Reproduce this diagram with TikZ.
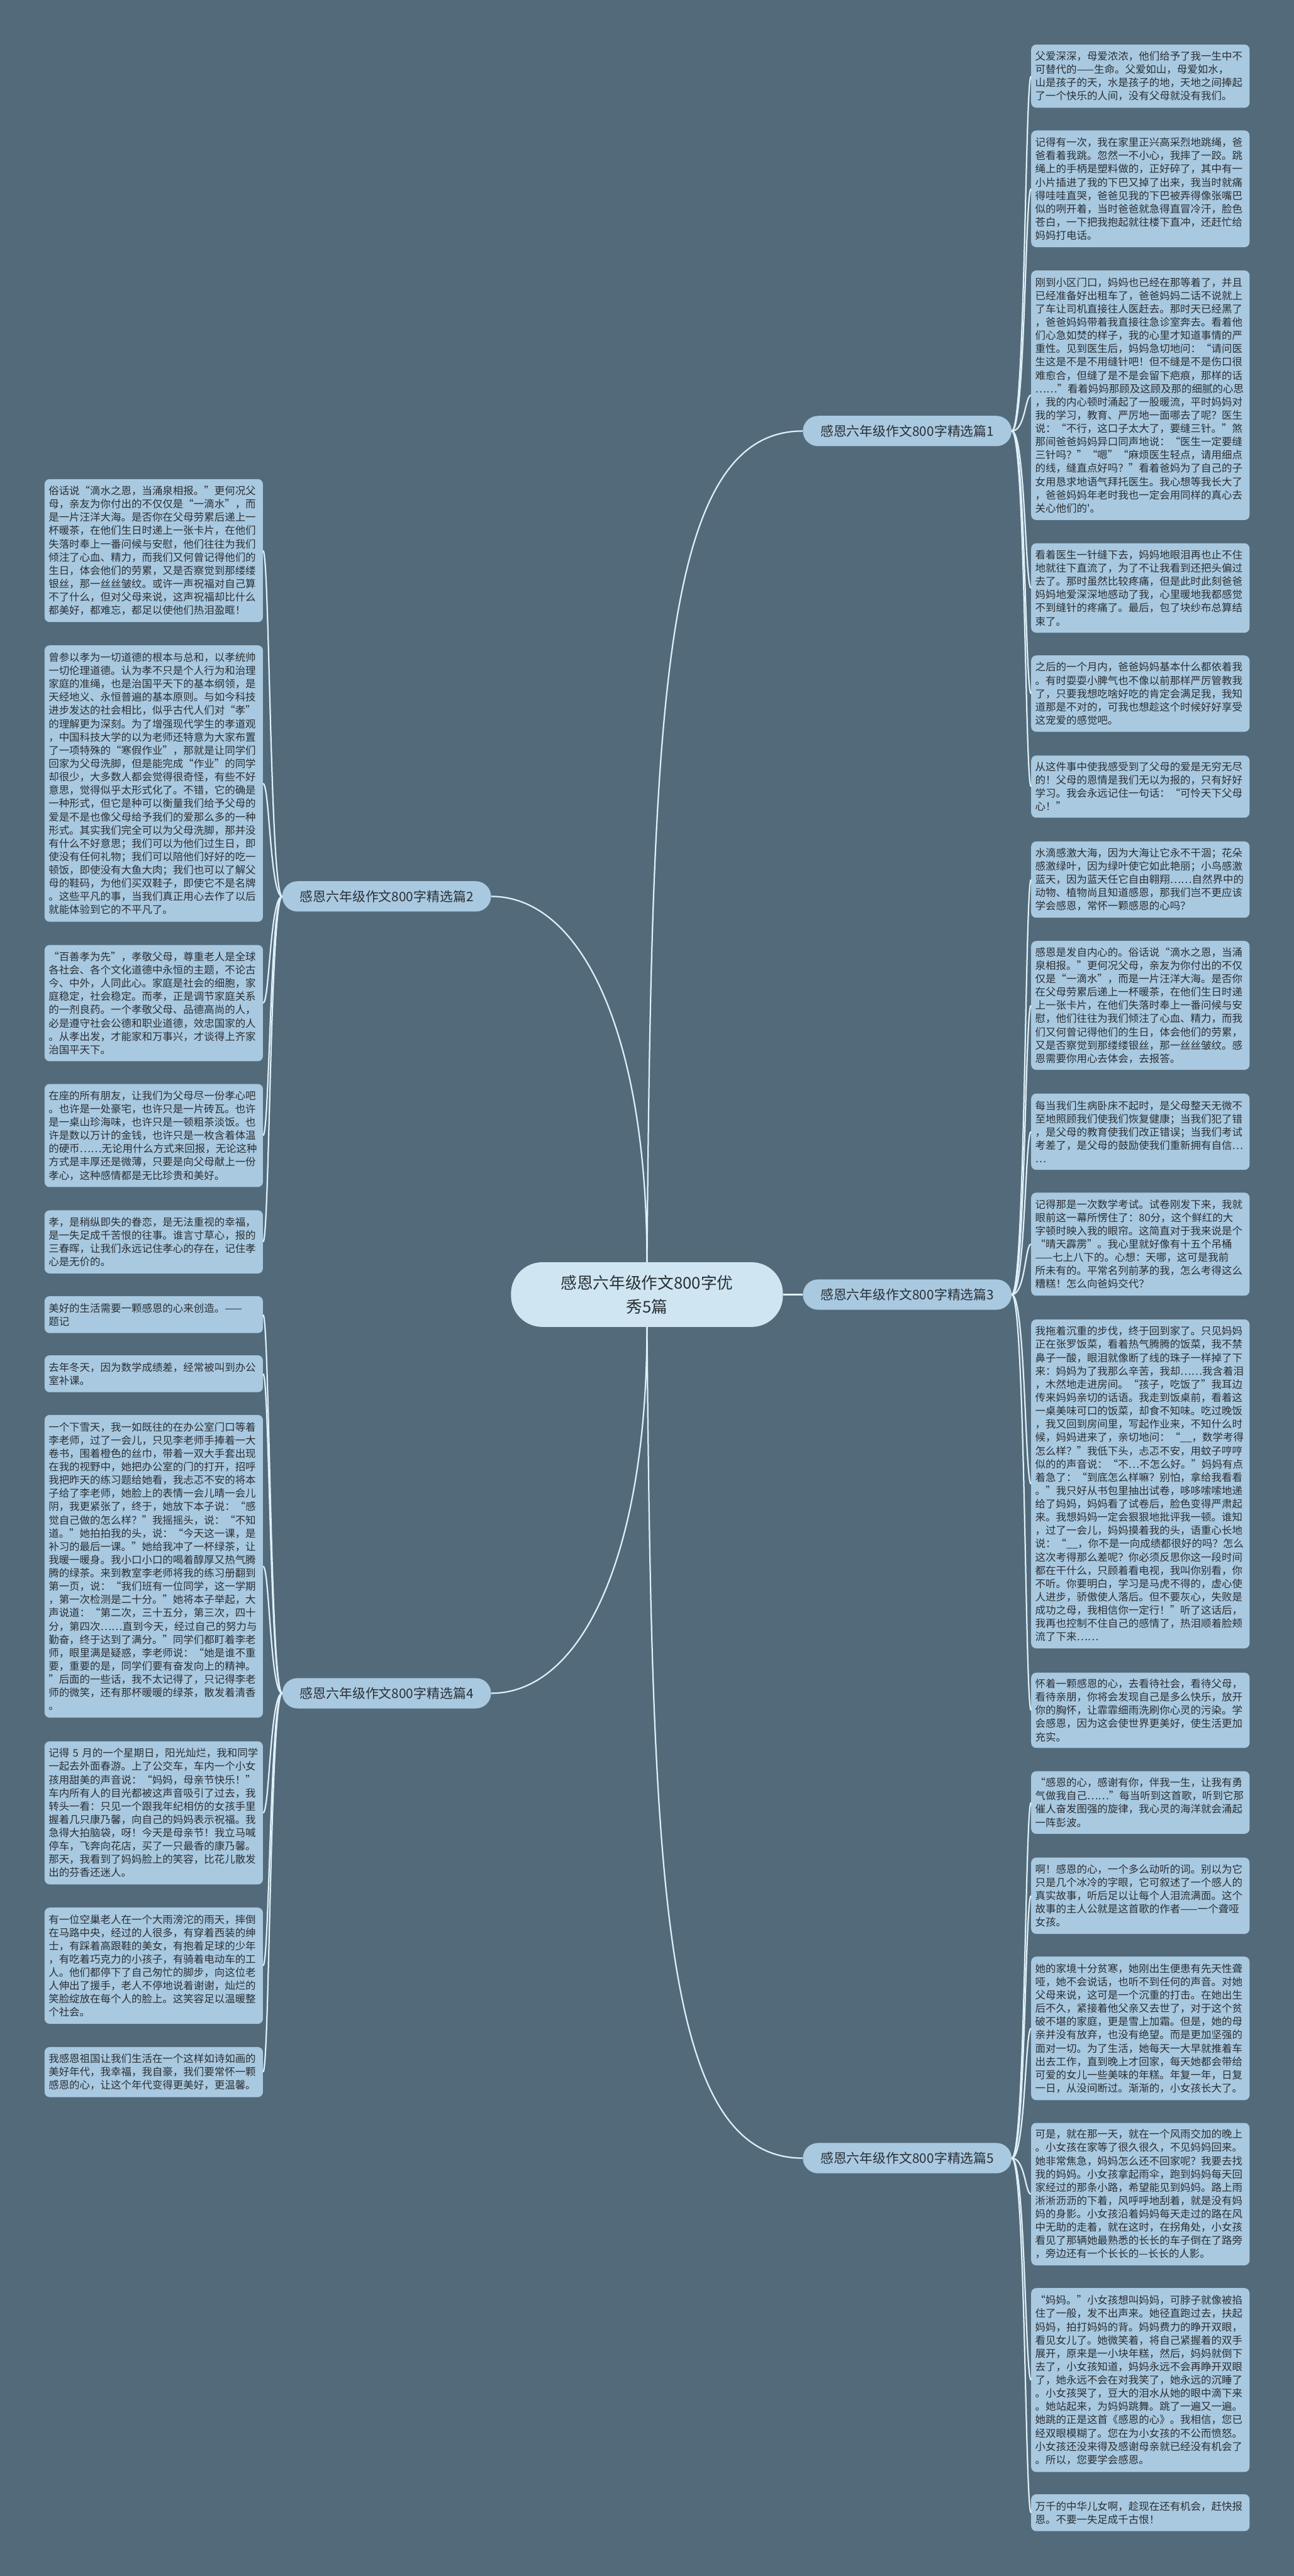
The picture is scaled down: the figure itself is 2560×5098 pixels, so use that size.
\documentclass[tikz,border=0pt]{standalone}
\usepackage{fontspec}
\newfontfamily\cjk{Noto Sans CJK SC}
\usetikzlibrary{calc}
\definecolor{bg}{HTML}{526A7A}
\definecolor{leaffill}{HTML}{A9C9E0}
\definecolor{centerfill}{HTML}{CFE6F2}
\definecolor{linec}{HTML}{DDEFF8}
\definecolor{txt}{HTML}{2A2F34}
\tikzset{
  leafbox/.style={fill=leaffill, rounded corners=10pt, text=txt,
    font=\cjk\fontsize{20.5pt}{26.3pt}\selectfont, align=left,
    text width=416pt, inner xsep=8pt, inner ysep=0pt, minimum width=432pt, anchor=north west},
  branchbox/.style={fill=leaffill, rounded corners=30pt, text=txt,
    font=\cjk\fontsize{26pt}{30pt}\selectfont, minimum width=413pt, minimum height=60pt,
    inner xsep=10pt, inner ysep=0pt},
  centerbox/.style={fill=centerfill, rounded corners=62pt, text=txt,
    font=\cjk\fontsize{32pt}{47pt}\selectfont, align=center, minimum width=538pt,
    minimum height=128pt, inner sep=0pt},
  conn/.style={draw=linec, line width=2.8pt}
}
\newcommand\leaf[4]{\node[leafbox, minimum height=#3pt] (#1) at (#2) {#4};}
\newcommand\rconn[2]{\draw[conn] (#1.east) .. controls ($(#1.east)+(27,0)$) and ($(#2.west)+(-12,0)$) .. (#2.west);}
\newcommand\lconn[2]{\draw[conn] (#1.west) .. controls ($(#1.west)+(-24,0)$) and ($(#2.east)+(13,0)$) .. (#2.east);}
\begin{document}
\begin{tikzpicture}[x=1pt,y=-1pt]
\fill[bg] (0,0) rectangle (2560,5098);
\useasboundingbox (0,0) rectangle (2560,5098);

% centre and branches
\node[centerbox] (c) at (1280,2562) {感恩六年级作文800字优\\秀5篇};
\node[branchbox] (b1) at (1795,853) {感恩六年级作文800字精选篇1};
\node[branchbox] (b2) at (765,1774) {感恩六年级作文800字精选篇2};
\node[branchbox] (b3) at (1795,2562) {感恩六年级作文800字精选篇3};
\node[branchbox] (b4) at (765,3351) {感恩六年级作文800字精选篇4};
\node[branchbox] (b5) at (1795,4271) {感恩六年级作文800字精选篇5};

% right column, branch 1
\leaf{r1}{2040,88}{125}{父爱深深，母爱浓浓，他们给予了我一生中不\\可替代的——生命。父爱如山，母爱如水，\\山是孩子的天，水是孩子的地，天地之间捧起\\了一个快乐的人间，没有父母就没有我们。}
\leaf{r2}{2040,258}{231}{记得有一次，我在家里正兴高采烈地跳绳，爸\\爸看着我跳。忽然一不小心，我摔了一跤。跳\\绳上的手柄是塑料做的，正好碎了，其中有一\\小片插进了我的下巴又掉了出来，我当时就痛\\得哇哇直哭，爸爸见我的下巴被弄得像张嘴巴\\似的咧开着，当时爸爸就急得直冒冷汗，脸色\\苍白，一下把我抱起就往楼下直冲，还赶忙给\\妈妈打电话。}
\leaf{r3}{2040,535}{494}{刚到小区门口，妈妈也已经在那等着了，并且\\已经准备好出租车了，爸爸妈妈二话不说就上\\了车让司机直接往人医赶去。那时天已经黑了\\，爸爸妈妈带着我直接往急诊室奔去。看着他\\们心急如焚的样子，我的心里才知道事情的严\\重性。见到医生后，妈妈急切地问：“请问医\\生这是不是不用缝针吧！但不缝是不是伤口很\\难愈合，但缝了是不是会留下疤痕，那样的话\\……”看着妈妈那顾及这顾及那的细腻的心思\\，我的内心顿时涌起了一股暖流，平时妈妈对\\我的学习，教育、严厉地一面哪去了呢？医生\\说：“不行，这口子太大了，要缝三针。”煞\\那间爸爸妈妈异口同声地说：“医生一定要缝\\三针吗？”“嗯”“麻烦医生轻点，请用细点\\的线，缝直点好吗？”看着爸妈为了自己的子\\女用恳求地语气拜托医生。我心想等我长大了\\，爸爸妈妈年老时我也一定会用同样的真心去\\关心他们的'。}
\leaf{r4}{2040,1075}{177}{看着医生一针缝下去，妈妈地眼泪再也止不住\\地就往下直流了，为了不让我看到还把头偏过\\去了。那时虽然比较疼痛，但是此时此刻爸爸\\妈妈地爱深深地感动了我，心里暖地我都感觉\\不到缝针的疼痛了。最后，包了块纱布总算结\\束了。}
\leaf{r5}{2040,1297}{151}{之后的一个月内，爸爸妈妈基本什么都依着我\\。有时耍耍小脾气也不像以前那样严厉管教我\\了，只要我想吃啥好吃的肯定会满足我，我知\\道那是不对的，可我也想趁这个时候好好享受\\这宠爱的感觉吧。}
\leaf{r6}{2040,1495}{123}{从这件事中使我感受到了父母的爱是无穷无尽\\的！父母的恩情是我们无以为报的，只有好好\\学习。我会永远记住一句话：“可怜天下父母\\心！”}

% right column, branch 3
\leaf{r7}{2040,1665}{151}{水滴感激大海，因为大海让它永不干涸；花朵\\感激绿叶，因为绿叶使它如此艳丽；小鸟感激\\蓝天，因为蓝天任它自由翱翔……自然界中的\\动物、植物尚且知道感恩，那我们岂不更应该\\学会感恩，常怀一颗感恩的心吗？}
\leaf{r8}{2040,1862}{255}{感恩是发自内心的。俗话说“滴水之恩，当涌\\泉相报。”更何况父母，亲友为你付出的不仅\\仅是“一滴水”，而是一片汪洋大海。是否你\\在父母劳累后递上一杯暖茶，在他们生日时递\\上一张卡片，在他们失落时奉上一番问候与安\\慰，他们往往为我们倾注了心血、精力，而我\\们又何曾记得他们的生日，体会他们的劳累，\\又是否察觉到那缕缕银丝，那一丝丝皱纹。感\\恩需要你用心去体会，去报答。}
\leaf{r9}{2040,2164}{151}{每当我们生病卧床不起时，是父母整天无微不\\至地照顾我们使我们恢复健康；当我们犯了错\\，是父母的教育使我们改正错误；当我们考试\\考差了，是父母的鼓励使我们重新拥有自信…\\…}
\leaf{r10}{2040,2360}{204}{记得那是一次数学考试。试卷刚发下来，我就\\眼前这一幕所愣住了：80分，这个鲜红的大\\字顿时映入我的眼帘。这简直对于我来说是个\\“晴天霹雳”。我心里就好像有十五个吊桶\\——七上八下的。心想：天哪，这可是我前\\所未有的。平常名列前茅的我，怎么考得这么\\糟糕！怎么向爸妈交代？}
\leaf{r11}{2040,2611}{651}{我拖着沉重的步伐，终于回到家了。只见妈妈\\正在张罗饭菜，看着热气腾腾的饭菜，我不禁\\鼻子一酸，眼泪就像断了线的珠子一样掉了下\\来：妈妈为了我那么辛苦，我却……我含着泪\\，木然地走进房间。“孩子，吃饭了”我耳边\\传来妈妈亲切的话语。我走到饭桌前，看着这\\一桌美味可口的饭菜，却食不知味。吃过晚饭\\，我又回到房间里，写起作业来，不知什么时\\候，妈妈进来了，亲切地问：“\_\_，数学考得\\怎么样？”我低下头，忐忑不安，用蚊子哼哼\\似的的声音说：“不…不怎么好。”妈妈有点\\着急了：“到底怎么样嘛？别怕，拿给我看看\\。”我只好从书包里抽出试卷，哆哆嗦嗦地递\\给了妈妈，妈妈看了试卷后，脸色变得严肃起\\来。我想妈妈一定会狠狠地批评我一顿。谁知\\，过了一会儿，妈妈摸着我的头，语重心长地\\说：“\_\_，你不是一向成绩都很好的吗？怎么\\这次考得那么差呢？你必须反思你这一段时间\\都在干什么，只顾着看电视，我叫你别看，你\\不听。你要明白，学习是马虎不得的，虚心使\\人进步，骄傲使人落后。但不要灰心，失败是\\成功之母，我相信你一定行！”听了这话后，\\我再也控制不住自己的感情了，热泪顺着脸颊\\流了下来……}
\leaf{r12}{2040,3310}{149}{怀着一颗感恩的心，去看待社会，看待父母，\\看待亲朋，你将会发现自己是多么快乐，放开\\你的胸怀，让霏霏细雨洗刷你心灵的污染。学\\会感恩，因为这会使世界更美好，使生活更加\\充实。}

% right column, branch 5
\leaf{r13}{2040,3505}{124}{“感恩的心，感谢有你，伴我一生，让我有勇\\气做我自己……”每当听到这首歌，听到它那\\催人奋发图强的旋律，我心灵的海洋就会涌起\\一阵彭波。}
\leaf{r14}{2040,3676}{151}{啊！感恩的心，一个多么动听的词。别以为它\\只是几个冰冷的字眼，它可叙述了一个感人的\\真实故事，听后足以让每个人泪流满面。这个\\故事的主人公就是这首歌的作者——一个聋哑\\女孩。}
\leaf{r15}{2040,3872}{284}{她的家境十分贫寒，她刚出生便患有先天性聋\\哑，她不会说话，也听不到任何的声音。对她\\父母来说，这可是一个沉重的打击。在她出生\\后不久，紧接着他父亲又去世了，对于这个贫\\破不堪的家庭，更是雪上加霜。但是，她的母\\亲并没有放弃，也没有绝望。而是更加坚强的\\面对一切。为了生活，她每天一大早就推着车\\出去工作，直到晚上才回家，每天她都会带给\\可爱的女儿一些美味的年糕。年复一年，日复\\一日，从没间断过。渐渐的，小女孩长大了。}
\leaf{r16}{2040,4201}{282}{可是，就在那一天，就在一个风雨交加的晚上\\。小女孩在家等了很久很久，不见妈妈回来。\\她非常焦急，妈妈怎么还不回家呢？我要去找\\我的妈妈。小女孩拿起雨伞，跑到妈妈每天回\\家经过的那条小路，希望能见到妈妈。路上雨\\淅淅沥沥的下着，风呼呼地刮着，就是没有妈\\妈的身影。小女孩沿着妈妈每天走过的路在风\\中无助的走着，就在这时，在拐角处，小女孩\\看见了那辆她最熟悉的长长的车子倒在了路旁\\，旁边还有一个长长的—长长的人影。}
\leaf{r17}{2040,4528}{364}{“妈妈。”小女孩想叫妈妈，可脖子就像被掐\\住了一般，发不出声来。她径直跑过去，扶起\\妈妈，拍打妈妈的背。妈妈费力的睁开双眼，\\看见女儿了。她微笑着，将自己紧握着的双手\\展开，原来是一小块年糕，然后，妈妈就倒下\\去了，小女孩知道，妈妈永远不会再睁开双眼\\了，她永远不会在对我笑了，她永远的沉睡了\\。小女孩哭了，豆大的泪水从她的眼中滴下来\\。她站起来，为妈妈跳舞。跳了一遍又一遍。\\她跳的正是这首《感恩的心》。我相信，您已\\经双眼模糊了。您在为小女孩的不公而愤怒。\\小女孩还没来得及感谢母亲就已经没有机会了\\。所以，您要学会感恩。}
\leaf{r18}{2040,4936}{73}{万千的中华儿女啊，趁现在还有机会，赶快报\\恩。不要一失足成千古恨！}

% left column, branch 2
\leaf{l1}{88,948}{283}{俗话说“滴水之恩，当涌泉相报。”更何况父\\母，亲友为你付出的不仅仅是“一滴水”，而\\是一片汪洋大海。是否你在父母劳累后递上一\\杯暖茶，在他们生日时递上一张卡片，在他们\\失落时奉上一番问候与安慰，他们往往为我们\\倾注了心血、精力，而我们又何曾记得他们的\\生日，体会他们的劳累，又是否察觉到那缕缕\\银丝，那一丝丝皱纹。或许一声祝福对自己算\\不了什么，但对父母来说，这声祝福却比什么\\都美好，都难忘，都足以使他们热泪盈眶！}
\leaf{l2}{88,1277}{547}{曾参以孝为一切道德的根本与总和，以孝统帅\\一切伦理道德。认为孝不只是个人行为和治理\\家庭的准绳，也是治国平天下的基本纲领，是\\天经地义、永恒普遍的基本原则。与如今科技\\进步发达的社会相比，似乎古代人们对“孝”\\的理解更为深刻。为了增强现代学生的孝道观\\，中国科技大学的以为老师还特意为大家布置\\了一项特殊的“寒假作业”，那就是让同学们\\回家为父母洗脚，但是能完成“作业”的同学\\却很少，大多数人都会觉得很奇怪，有些不好\\意思，觉得似乎太形式化了。不错，它的确是\\一种形式，但它是种可以衡量我们给予父母的\\爱是不是也像父母给予我们的爱那么多的一种\\形式。其实我们完全可以为父母洗脚，那并没\\有什么不好意思；我们可以为他们过生日，即\\使没有任何礼物；我们可以陪他们好好的吃一\\顿饭，即使没有大鱼大肉；我们也可以了解父\\母的鞋码，为他们买双鞋子，即使它不是名牌\\。这些平凡的事，当我们真正用心去作了以后\\就能体验到它的不平凡了。}
\leaf{l3}{88,1870}{230}{“百善孝为先”，孝敬父母，尊重老人是全球\\各社会、各个文化道德中永恒的主题，不论古\\今、中外，人同此心。家庭是社会的细胞，家\\庭稳定，社会稳定。而孝，正是调节家庭关系\\的一剂良药。一个孝敬父母、品德高尚的人，\\必是遵守社会公德和职业道德，效忠国家的人\\。从孝出发，才能家和万事兴，才谈得上齐家\\治国平天下。}
\leaf{l4}{88,2145}{204}{在座的所有朋友，让我们为父母尽一份孝心吧\\。也许是一处豪宅，也许只是一片砖瓦。也许\\是一桌山珍海味，也许只是一顿粗茶淡饭。也\\许是数以万计的金钱，也许只是一枚含着体温\\的硬币……无论用什么方式来回报，无论这种\\方式是丰厚还是微薄，只要是向父母献上一份\\孝心，这种感情都是无比珍贵和美好。}
\leaf{l5}{88,2395}{125}{孝，是稍纵即失的眷恋，是无法重视的幸福，\\是一失足成千苦恨的往事。谁言寸草心，报的\\三春晖，让我们永远记住孝心的存在，记住孝\\心是无价的。}

% left column, branch 4
\leaf{l6}{88,2565}{73}{美好的生活需要一颗感恩的心来创造。——\\题记}
\leaf{l7}{88,2682}{73}{去年冬天，因为数学成绩差，经常被叫到办公\\室补课。}
\leaf{l8}{88,2800}{599}{一个下雪天，我一如既往的在办公室门口等着\\李老师，过了一会儿，只见李老师手捧着一大\\卷书，围着橙色的丝巾，带着一双大手套出现\\在我的视野中，她把办公室的门的打开，招呼\\我把昨天的练习题给她看，我忐忑不安的将本\\子给了李老师，她脸上的表情一会儿晴一会儿\\阴，我更紧张了，终于，她放下本子说：“感\\觉自己做的怎么样？”我摇摇头，说：“不知\\道。”她拍拍我的头，说：“今天这一课，是\\补习的最后一课。”她给我冲了一杯绿茶，让\\我暖一暖身。我小口小口的喝着醇厚又热气腾\\腾的绿茶。来到教室李老师将我的练习册翻到\\第一页，说：“我们班有一位同学，这一学期\\，第一次检测是二十分。”她将本子举起，大\\声说道：“第二次，三十五分，第三次，四十\\分，第四次……直到今天，经过自己的努力与\\勤奋，终于达到了满分。”同学们都盯着李老\\师，眼里满是疑惑，李老师说：“她是谁不重\\要，重要的是，同学们要有奋发向上的精神。\\”后面的一些话，我不太记得了，只记得李老\\师的微笑，还有那杯暖暖的绿茶，散发着清香\\。}
\leaf{l9}{88,3446}{283}{记得~5~月的一个星期日，阳光灿烂，我和同学\\一起去外面春游。上了公交车，车内一个小女\\孩用甜美的声音说：“妈妈，母亲节快乐！”\\车内所有人的目光都被这声音吸引了过去，我\\转头一看：只见一个跟我年纪相仿的女孩手里\\握着几只康乃馨，向自己的妈妈表示祝福。我\\急得大拍脑袋，呀！今天是母亲节！我立马喊\\停车，飞奔向花店，买了一只最香的康乃馨。\\那天，我看到了妈妈脸上的笑容，比花儿散发\\出的芬香还迷人。}
\leaf{l10}{88,3775}{230}{有一位空巢老人在一个大雨滂沱的雨天，摔倒\\在马路中央，经过的人很多，有穿着西装的绅\\士，有踩着高跟鞋的美女，有抱着足球的少年\\，有吃着巧克力的小孩子，有骑着电动车的工\\人。他们都停下了自己匆忙的脚步，向这位老\\人伸出了援手，老人不停地说着谢谢，灿烂的\\笑脸绽放在每个人的脸上。这笑容足以温暖整\\个社会。}
\leaf{l11}{88,4051}{99}{我感恩祖国让我们生活在一个这样如诗如画的\\美好年代，我幸福，我自豪，我们要常怀一颗\\感恩的心，让这个年代变得更美好，更温馨。}

% connectors centre -> branches
\draw[conn] (c.north) .. controls ($(c.north)+(10,-1100)$) and ($(b1.west)+(-280,0)$) .. (b1.west);
\draw[conn] (c.north) .. controls ($(c.north)+(0,-450)$) and ($(b2.east)+(180,0)$) .. (b2.east);
\draw[conn] (c.east) -- (b3.west);
\draw[conn] (c.south) .. controls ($(c.south)+(0,450)$) and ($(b4.east)+(180,0)$) .. (b4.east);
\draw[conn] (c.south) .. controls ($(c.south)+(10,1100)$) and ($(b5.west)+(-280,0)$) .. (b5.west);

% connectors branches -> leaves
\foreach \l in {r1,r2,r3,r4,r5,r6}{\rconn{b1}{\l}}
\foreach \l in {r7,r8,r9,r10,r11,r12}{\rconn{b3}{\l}}
\foreach \l in {r13,r14,r15,r16,r17,r18}{\rconn{b5}{\l}}
\foreach \l in {l1,l2,l3,l4,l5}{\lconn{b2}{\l}}
\foreach \l in {l6,l7,l8,l9,l10,l11}{\lconn{b4}{\l}}
\end{tikzpicture}
\end{document}
